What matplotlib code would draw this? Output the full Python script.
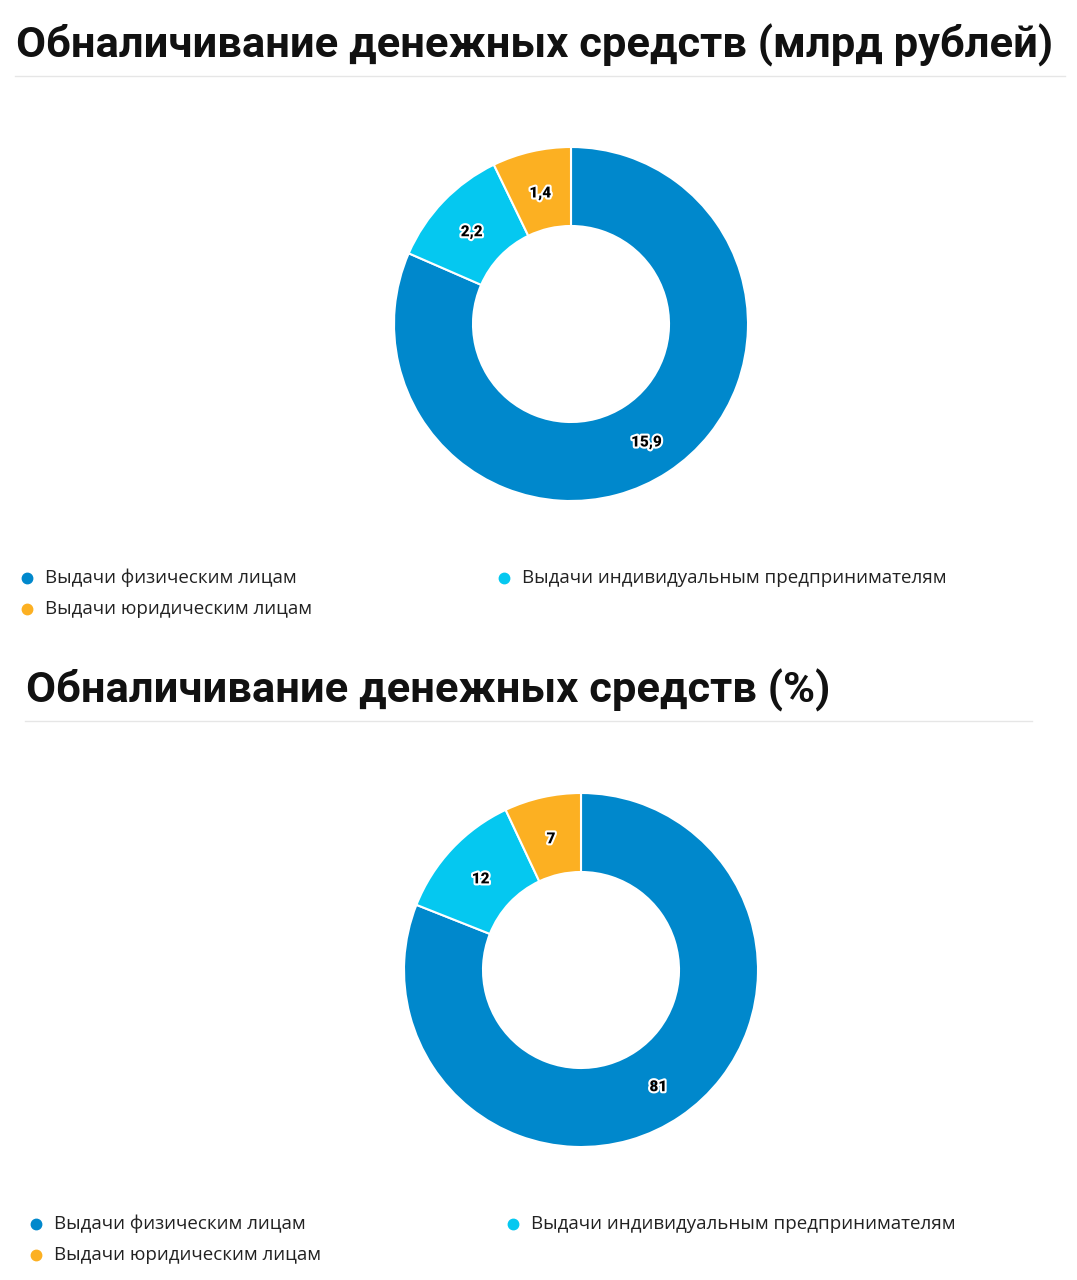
import matplotlib
matplotlib.use("Agg")
import numpy as np
import matplotlib.pyplot as plt
import matplotlib.patheffects as pe
import matplotlib.transforms as mtransforms
from matplotlib.lines import Line2D

W, H = 1077, 1280
DPI = 100

categories = ["Выдачи физическим лицам",
              "Выдачи индивидуальным предпринимателям",
              "Выдачи юридическим лицам"]
values_rub = [15.9, 2.2, 1.4]
labels_rub = ["15,9", "2,2", "1,4"]
values_pct = [81, 12, 7]
labels_pct = ["81", "12", "7"]
colors = ["#0088CC", "#05C8F0", "#FCB022"]

title_rub = "Обналичивание денежных средств (млрд рублей)"
title_pct = "Обналичивание денежных средств (%)"

fig = plt.figure(figsize=(W / DPI, H / DPI), dpi=DPI)
fig.patch.set_facecolor("white")


def fx(px):
    return px / W


def fy(py):
    return 1 - py / H


def panel(title, tx, ty, line_x0, line_x1, line_y, cx, cy, vals, labs, leg_y, leg_x0, leg_x1):
    fig.text(fx(tx), fy(ty), title, fontsize=31.3, fontweight="bold",
             family=["Roboto", "DejaVu Sans"], color="#111111", va="center", ha="left")
    fig.add_artist(Line2D([fx(line_x0), fx(line_x1)], [fy(line_y), fy(line_y)],
                          color="#E6E6E6", lw=1.0, transform=fig.transFigure))
    r = 177
    ax = fig.add_axes([fx(cx - r), fy(cy + r), (2 * r) / W, (2 * r) / H])
    ax.pie(vals, colors=colors, startangle=90, counterclock=False, radius=1.0,
           wedgeprops=dict(width=1 - 98 / 177, edgecolor="white", linewidth=1.5))
    ax.set_xlim(-1, 1)
    ax.set_ylim(-1, 1)
    ax.set_aspect("equal")
    ax.axis("off")
    total = sum(vals)
    cum = 0
    rmid = (1 + 98 / 177) / 2
    shift = mtransforms.offset_copy(ax.transData, fig=fig, x=0, y=-3.5, units="dots")
    for v, lab in zip(vals, labs):
        ang = np.deg2rad(90 - (cum + v / 2) / total * 360)
        cum += v
        ax.text(rmid * np.cos(ang), rmid * np.sin(ang), lab, ha="center", va="center",
                fontsize=11, fontweight="black", family=["Roboto", "DejaVu Sans"], color="black",
                transform=shift,
                path_effects=[pe.withStroke(linewidth=3, foreground="white")])
    positions = [(leg_x0, leg_y), (leg_x1, leg_y), (leg_x0, leg_y + 31)]
    for (lx, ly), cat, col in zip(positions, categories, colors):
        fig.add_artist(Line2D([fx(lx)], [fy(ly)], marker="o", markersize=7.5,
                              color=col, linestyle="none", transform=fig.transFigure))
        fig.text(fx(lx + 18), fy(ly), cat, fontsize=13.5, family=["Open Sans", "DejaVu Sans"],
                 color="#222222", va="center", ha="left")


panel(title_rub, 16, 45, 15, 1065, 76, 571, 324, values_rub, labels_rub, 578, 27, 504)
panel(title_pct, 26, 690, 25, 1032, 721, 581, 970, values_pct, labels_pct, 1224, 36, 513)

fig.savefig("out.png", dpi=DPI, facecolor="white")
